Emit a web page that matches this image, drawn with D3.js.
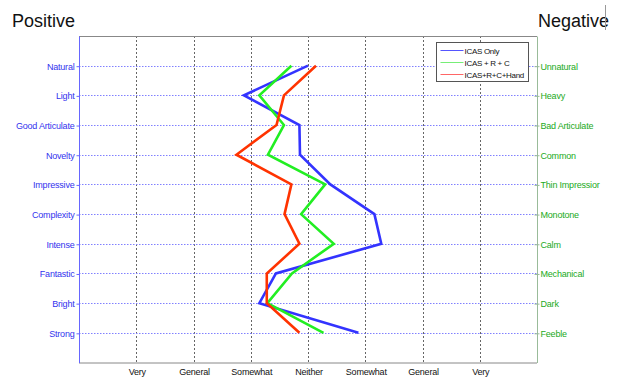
<!DOCTYPE html>
<html>
<head>
<meta charset="utf-8">
<script src="https://cdn.jsdelivr.net/npm/d3@7"></script>
<style>
html,body{margin:0;padding:0;background:#fff;}
svg{display:block;}
text{font-family:"Liberation Sans",Arial,sans-serif;}
</style>
</head>
<body>
<svg id="chart" width="620" height="377"></svg>
<script>
const leftLabels = ["Natural","Light","Good Articulate","Novelty","Impressive","Complexity","Intense","Fantastic","Bright","Strong"];
const rightLabels = ["Unnatural","Heavy","Bad Articulate","Common","Thin Impressior","Monotone","Calm","Mechanical","Dark","Feeble"];
const xTickLabels = ["Very","General","Somewhat","Neither","Somewhat","General","Very"];
const seriesNames = ["ICAS Only","ICAS + R + C","ICAS+R+C+Hand"];
const icasOnly  = [4.00, 2.88, 3.85, 3.86, 4.39, 5.16, 5.28, 3.44, 3.15, 4.88];
const icasRC    = [3.71, 3.15, 3.58, 3.30, 4.30, 3.88, 4.45, 3.72, 3.29, 4.27];
const icasRCH   = [4.14, 3.58, 3.45, 2.75, 3.71, 3.59, 3.85, 3.28, 3.28, 3.85];
const seriesColors = ["#3333ff","#22ee22","#ff3300"];
const legendColors = ["#5555ff","#77ee77","#ff6666"];

const svg = d3.select("#chart");
const L = 79, R = 537, T = 36, B = 362.5;

const x = d3.scaleLinear().domain([0, 8]).range([L, R]);
const y = d3.scaleLinear().domain([0, 11]).range([T, B]);

// vertical dashed gridlines
const xt = d3.range(1, 8);
svg.append("g").selectAll("line").data(xt).join("line")
  .attr("x1", d => Math.round(x(d)) + 0.5).attr("x2", d => Math.round(x(d)) + 0.5)
  .attr("y1", T).attr("y2", B)
  .attr("stroke", "#666").attr("stroke-width", 1).attr("stroke-dasharray", "2,2");

// horizontal dotted gridlines
const yt = d3.range(1, 11);
svg.append("g").selectAll("line").data(yt).join("line")
  .attr("x1", L).attr("x2", R)
  .attr("y1", d => Math.round(y(d)) + 0.5).attr("y2", d => Math.round(y(d)) + 0.5)
  .attr("stroke", "#8080ff").attr("stroke-width", 1).attr("stroke-dasharray", "1.5,1.5");

// frame
svg.append("line").attr("x1", L).attr("x2", R).attr("y1", T + 0.5).attr("y2", T + 0.5).attr("stroke", "#888");
svg.append("line").attr("x1", L).attr("x2", R).attr("y1", B + 0.5).attr("y2", B + 0.5).attr("stroke", "#888");

// left axis
const leftAxis = d3.axisLeft(y).tickValues(yt).tickFormat(d => leftLabels[d - 1]).tickSize(3).tickPadding(2);
const gl = svg.append("g").attr("transform", `translate(${L + 0.5},0.5)`).call(leftAxis);
gl.select(".domain").attr("stroke", "#6666ff").attr("d", `M0,${T}V${B}`);
gl.selectAll(".tick line").attr("stroke", "#6666ff");
gl.selectAll(".tick text").attr("fill", "#3333ee").style("font-size", "9px").attr("letter-spacing", "-0.2").style("font-family", "'Liberation Sans',Arial,sans-serif");

// right axis
const rightAxis = d3.axisRight(y).tickValues(yt).tickFormat(d => rightLabels[d - 1]).tickSize(3).tickPadding(0);
const gr = svg.append("g").attr("transform", `translate(${R + 0.5},0.5)`).call(rightAxis);
gr.select(".domain").attr("stroke", "#99bb99").attr("d", `M0,${T}V${B}`);
gr.selectAll(".tick line").attr("stroke", "#99bb99").attr("x1", -3).attr("x2", 2);
gr.selectAll(".tick text").attr("fill", "#22aa22").attr("x", 3).style("font-size", "9px").attr("letter-spacing", "-0.2").style("font-family", "'Liberation Sans',Arial,sans-serif");

// bottom axis
const bottomAxis = d3.axisBottom(x).tickValues(xt).tickFormat(d => xTickLabels[d - 1]).tickSize(0).tickPadding(6);
const gb = svg.append("g").attr("transform", `translate(0.5,${B + 0.5})`).call(bottomAxis);
gb.select(".domain").remove();
gb.selectAll(".tick text").attr("fill", "#111").style("font-size", "9px").attr("letter-spacing", "-0.2").style("font-family", "'Liberation Sans',Arial,sans-serif");

// series lines
const allSeries = [icasOnly, icasRC, icasRCH];
const line = d3.line().x(d => x(d.v)).y(d => y(d.i + 1));
allSeries.forEach((s, k) => {
  svg.append("path")
    .datum(s.map((v, i) => ({v, i})))
    .attr("d", line)
    .attr("fill", "none")
    .attr("stroke", seriesColors[k])
    .attr("stroke-width", 2.6)
    .attr("stroke-linejoin", "miter");
});

// legend
const lg = svg.append("g").attr("transform", "translate(436.5,42.5)");
lg.append("rect").attr("width", 92).attr("height", 39).attr("fill", "#fff").attr("stroke", "#555").attr("stroke-width", 1);
seriesNames.forEach((n, k) => {
  const yy = 8 + k * 12;
  lg.append("line").attr("x1", 4).attr("x2", 27).attr("y1", yy).attr("y2", yy).attr("stroke", legendColors[k]).attr("stroke-width", 1);
  lg.append("text").attr("x", 28).attr("y", yy + 3).text(n).style("font-size", "8px").attr("fill", "#111").attr("letter-spacing", "-0.3");
});

// titles
svg.append("text").attr("x", 12).attr("y", 27).text("Positive").style("font-size", "18px").attr("fill", "#111");
svg.append("text").attr("x", 538).attr("y", 27).text("Negative").style("font-size", "18px").attr("fill", "#111");
svg.append("line").attr("x1", 605.5).attr("x2", 605.5).attr("y1", 5).attr("y2", 30).attr("stroke", "#999");
</script>
</body>
</html>
